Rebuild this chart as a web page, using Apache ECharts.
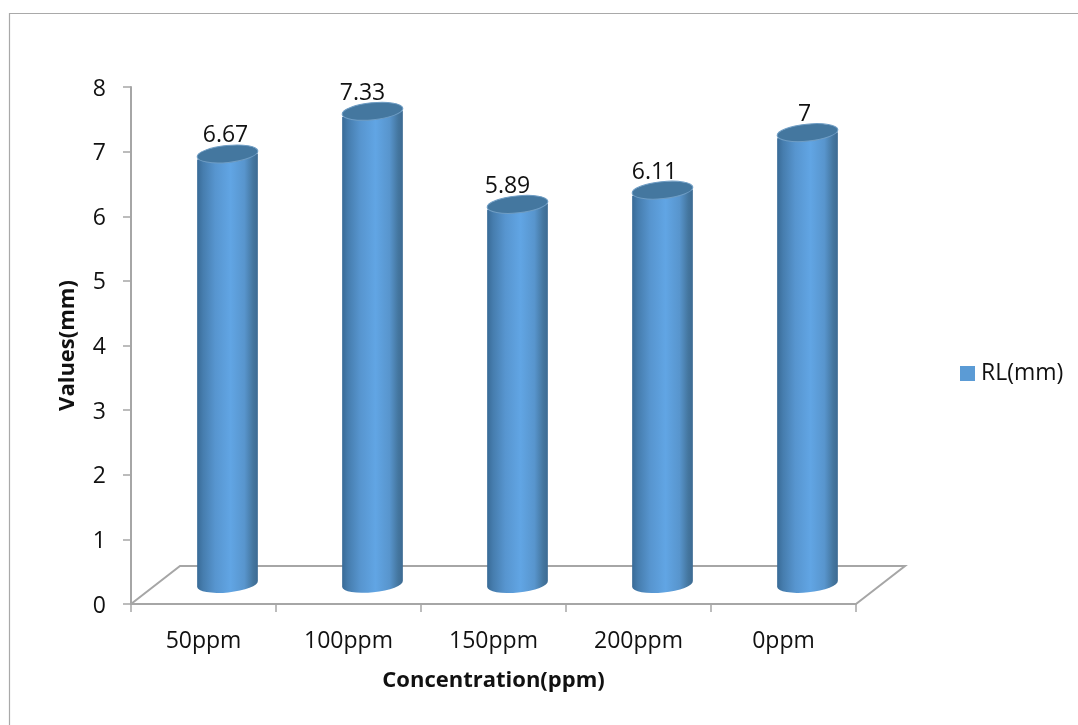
<!DOCTYPE html>
<html><head><meta charset="utf-8">
<style>html,body{margin:0;padding:0;background:#fff}#c{width:1078px;height:725px}</style>
<script src="https://cdn.jsdelivr.net/npm/echarts@6/dist/echarts.min.js"></script>
</head><body><div id="c"></div>
<script>
const categories = ['50ppm','100ppm','150ppm','200ppm','0ppm'];
const values = [6.67,7.33,5.89,6.11,7];
const valueLabels = ['6.67','7.33','5.89','6.11','7'];
const seriesName = 'RL(mm)';
const xTitle = 'Concentration(ppm)';
const yTitle = 'Values(mm)';

const FONT = '"Open Sans", sans-serif';
const DEPTH_X = 49, DEPTH_Y = 38;
const BAR_DX = 24, BAR_DY = 19, BASE_DY = 20.5, RX = 30.5, RY = 8.5, TILT = 0.1;
const LABEL_NUDGE = [-2,-10,-10,-8,-3];
const GREY = '#a6a6a6';

const chart = echarts.init(document.getElementById('c'));
const sideGrad = {type:'linear',x:0,y:0,x2:1,y2:0,colorStops:[
  {offset:0,color:'#386a96'},{offset:0.1,color:'#467dae'},{offset:0.3,color:'#5795cf'},
  {offset:0.55,color:'#61a5e4'},{offset:0.78,color:'#5895cd'},{offset:0.92,color:'#44769f'},{offset:1,color:'#3c6a92'}]};

chart.setOption({
  animation:false,
  backgroundColor:'#fff',
  graphic:[
    {type:'polyline',silent:true,z:0,shape:{points:[[9.5,725],[9.5,13.5],[1078,13.5]]},style:{fill:'none',stroke:'#a9a9a9',lineWidth:1.2}}
  ],
  legend:{
    left:955,top:357,orient:'vertical',itemWidth:15,itemHeight:15,itemGap:0,
    icon:'rect',
    textStyle:{fontFamily:FONT,fontSize:23,color:'#111',padding:[0,0,0,1]},
    data:[{name:seriesName,itemStyle:{color:'#5b9bd5'}}]
  },
  grid:{left:131,top:87,width:725,height:517,containLabel:false},
  xAxis:{
    type:'category',data:categories,
    axisLine:{show:true,lineStyle:{color:GREY,width:2}},
    axisTick:{show:true,alignWithLabel:false,length:8,lineStyle:{color:GREY,width:1.5}},
    axisLabel:{fontFamily:FONT,fontSize:23,color:'#111',margin:26},
    name:xTitle,nameLocation:'middle',nameGap:66,
    nameTextStyle:{fontFamily:FONT,fontSize:22,fontWeight:'bold',color:'#111'}
  },
  yAxis:{
    type:'value',min:0,max:8,interval:1,
    axisLine:{show:true,lineStyle:{color:GREY,width:2}},
    axisTick:{show:true,length:8,lineStyle:{color:GREY,width:1.5}},
    axisLabel:{fontFamily:FONT,fontSize:23,color:'#111',margin:25,verticalAlign:'top',lineHeight:24,padding:[-10,0,0,0]},
    splitLine:{show:false},
    name:yTitle,nameLocation:'middle',nameGap:52,
    nameTextStyle:{fontFamily:FONT,fontSize:22,fontWeight:'bold',color:'#111'}
  },
  series:[
    {
      type:'custom',name:'floor',silent:true,z:1,legendHoverLink:false,
      coordinateSystem:'cartesian2d',data:[[0,0]],
      renderItem(p,api){
        const s=p.coordSys;
        const y=s.y+s.height, x0=s.x, x1=s.x+s.width;
        return {type:'polyline',shape:{points:[[x0,y],[x0+DEPTH_X,y-DEPTH_Y],[x1+DEPTH_X,y-DEPTH_Y],[x1,y]]},
          style:{fill:'none',stroke:GREY,lineWidth:2}};
      }
    },
    {
      type:'custom',name:seriesName,z:3,coordinateSystem:'cartesian2d',
      itemStyle:{color:'#5b9bd5'},
      data:values.map((v,i)=>[i,v]),
      encode:{x:0,y:1},
      renderItem(p,api){
        const i=api.value(0), v=api.value(1);
        const top=api.coord([i,v]), base=api.coord([i,0]);
        const cx=top[0]+BAR_DX, ty=top[1]-BAR_DY, by=base[1]-BASE_DY;
        const l=cx-RX, r=cx+RX, dy=RX*Math.sin(TILT);
        const deg=-TILT*180/Math.PI;
        return {type:'group',children:[
          {type:'path',shape:{pathData:`M${l} ${ty+dy}L${l} ${by+dy}A${RX} ${RY} ${deg} 0 0 ${r} ${by-dy}L${r} ${ty-dy}Z`,
             x:l,y:ty-dy,width:2*RX,height:by-ty+2*dy+RY},
           style:{fill:sideGrad,stroke:null}},
          {type:'ellipse',x:cx,y:ty,rotation:TILT,shape:{cx:0,cy:0,rx:RX,ry:RY},style:{fill:'#44779f',stroke:'#6f9dc4',lineWidth:1}},
          {type:'text',style:{text:valueLabels[i],x:cx+LABEL_NUDGE[i],y:ty-18,align:'center',verticalAlign:'middle',
             font:'23px '+FONT,fill:'#111'}}
        ]};
      }
    }
  ]
});
</script></body></html>
